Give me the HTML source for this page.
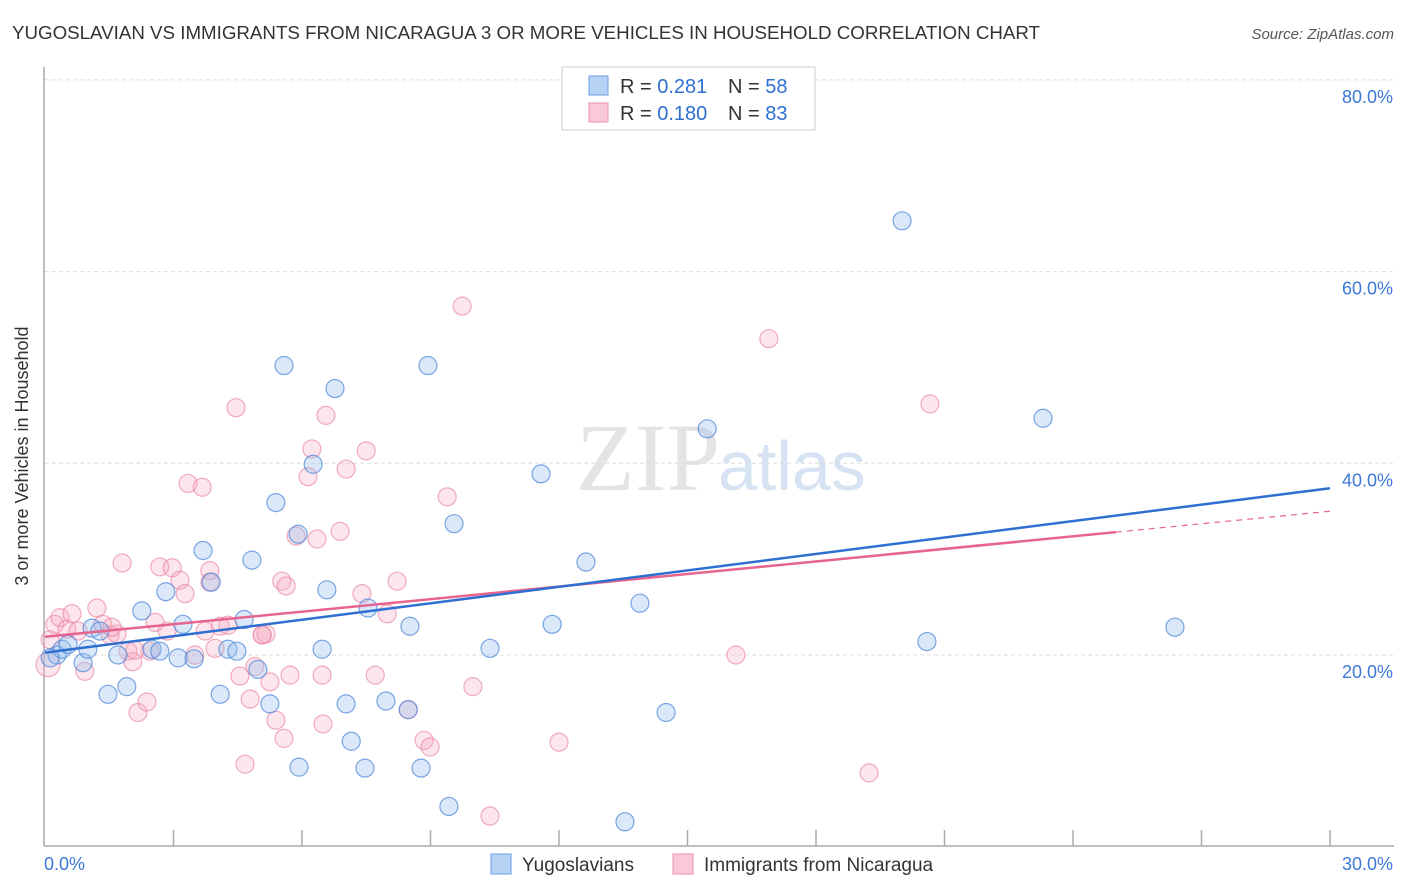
<!DOCTYPE html>
<html><head><meta charset="utf-8"><style>
body{margin:0;background:#fff;font-family:"Liberation Sans",sans-serif;}
svg{display:block}
</style></head><body>
<svg width="1406" height="892" xmlns="http://www.w3.org/2000/svg">
<text x="12" y="39" font-size="18" fill="#333" textLength="1028" lengthAdjust="spacingAndGlyphs">YUGOSLAVIAN VS IMMIGRANTS FROM NICARAGUA 3 OR MORE VEHICLES IN HOUSEHOLD CORRELATION CHART</text>
<text x="1394" y="39" font-size="15" fill="#555" font-style="italic" text-anchor="end">Source: ZipAtlas.com</text>
<text x="720" y="490" font-size="96" fill="#e4e4e4" text-anchor="end" font-family="Liberation Serif,serif">ZIP</text>
<text x="718" y="490" font-size="70" fill="#d6e3f3">atlas</text>
<g id="grid"></g>
<g id="pts"></g>
<g id="lines"></g>
<text x="28" y="456" font-size="18" fill="#333" transform="rotate(-90 28 456)" text-anchor="middle">3 or more Vehicles in Household</text>
<rect x="562" y="67" width="253" height="63" fill="#fff" stroke="#ccc"/>
<rect x="589" y="76" width="19" height="19" fill="#b7d3f4" stroke="#6a9ee0"/>
<rect x="589" y="103" width="19" height="19" fill="#f9c9d7" stroke="#ea93ad"/>
<text x="620" y="93" font-size="20" fill="#333">R = <tspan fill="#2e6fd1">0.281</tspan></text>
<text x="728" y="93" font-size="20" fill="#333">N = <tspan fill="#2e6fd1">58</tspan></text>
<text x="620" y="120" font-size="20" fill="#333">R = <tspan fill="#2e6fd1">0.180</tspan></text>
<text x="728" y="120" font-size="20" fill="#333">N = <tspan fill="#2e6fd1">83</tspan></text>
<rect x="491" y="854" width="20" height="20" fill="#b7d3f4" stroke="#6a9ee0"/>
<text x="522" y="871" font-size="19" fill="#333">Yugoslavians</text>
<rect x="673" y="854" width="20" height="20" fill="#f9c9d7" stroke="#ea93ad"/>
<text x="704" y="871" font-size="19" fill="#333">Immigrants from Nicaragua</text>
</svg>
<script>
const blueX=[0.28,0.40,0.54,0.89,1.10,1.28,1.47,1.70,1.91,2.26,2.50,2.68,2.82,3.11,3.22,3.48,3.69,3.88,4.09,4.27,4.48,4.65,4.83,4.97,5.25,5.39,5.58,5.91,5.93,6.26,6.47,6.58,6.77,7.03,7.15,7.47,7.54,7.96,8.48,8.52,8.78,8.94,9.43,9.55,10.39,11.58,11.84,12.63,13.54,13.89,14.50,15.46,20.01,20.59,23.30,26.38,0.12,1.00];
const blueY=[20.0,20.6,21.1,19.2,22.8,22.5,15.9,20.0,16.7,24.6,20.6,20.4,26.6,19.7,23.2,19.6,30.9,27.6,15.9,20.6,20.4,23.7,29.9,18.5,14.9,35.9,50.2,32.6,8.3,39.9,20.6,26.8,47.8,14.9,11.0,8.2,24.9,15.2,14.3,23.0,8.2,50.2,4.2,33.7,20.7,38.9,23.2,29.7,2.6,25.4,14.0,43.6,65.3,21.4,44.7,22.9,19.7,20.6];
const pinkX=[0.07,0.12,0.23,0.35,0.51,0.63,0.77,0.93,1.21,1.35,1.52,1.68,1.80,1.94,2.05,2.17,2.38,2.57,2.68,2.85,2.97,3.15,3.27,3.34,3.50,3.67,3.74,3.85,3.97,4.09,4.27,4.46,4.55,4.67,4.79,4.90,5.07,5.16,5.25,5.39,5.53,5.58,5.63,5.72,5.86,6.14,6.23,6.35,6.47,6.49,6.56,6.89,7.03,7.40,7.50,7.71,7.99,8.22,8.48,8.85,8.99,9.39,9.74,9.99,10.39,12.00,16.13,16.90,19.24,20.66,5.07,2.45,2.10,1.56,3.85];
const pinkY=[19.0,21.6,23.2,23.9,22.7,24.3,22.5,18.3,24.9,23.2,22.1,22.2,29.6,20.4,19.3,14.0,15.1,23.4,29.2,22.5,29.1,27.8,26.4,37.9,20.0,37.5,22.5,28.8,20.7,23.0,23.1,45.8,17.8,8.6,15.4,18.8,22.1,22.2,17.2,13.2,27.7,11.3,27.2,17.9,32.4,38.6,41.5,32.1,17.9,12.8,45.0,32.9,39.4,26.4,41.3,17.9,24.3,27.7,14.3,11.1,10.4,36.5,56.4,16.7,3.2,10.9,20.0,53.0,7.7,46.2,22.1,20.4,20.5,22.9,27.6];
const yTicks=[20,40,60,80];
const xTickLabels=["0.0%","30.0%"];
const blueTrend=[20.25,37.4];
const pinkTrend=[21.9,35.0];
const X=v=>45+v/30*1285, Y=v=>846.7-v*9.585;
const NS="http://www.w3.org/2000/svg";
function mk(t,a,p){const e=document.createElementNS(NS,t);for(const k in a)e.setAttribute(k,a[k]);p.appendChild(e);return e;}
const g=document.getElementById('grid'),pts=document.getElementById('pts'),ln=document.getElementById('lines');
let ax=mk('line',{x1:44,y1:67,x2:44,y2:846,stroke:'#aaa','stroke-width':1.5},g);


let bx=mk('line',{x1:44,y1:846,x2:1394,y2:846,stroke:'#aaa','stroke-width':1.5},g);


yTicks.forEach(t=>{
 const l=mk('line',{x1:45,x2:1394,y1:Y(t),y2:Y(t),stroke:'#ddd','stroke-dasharray':'4 3'},g);
 
 
 const tx=mk('text',{x:1393,y:Y(t)+23,'font-size':18,fill:'#3b78d8','text-anchor':'end'},g);
 tx.textContent=t.toFixed(1)+'%';
 
 
});
for(let i=1;i<=10;i++){
 const xx=X(i*3);
 const l=mk('line',{x1:xx,x2:xx,y1:830,y2:846,stroke:'#aaa','stroke-width':1.5},g);
 
 
}
[[0,'start',44],[30,'end',1393]].forEach((d,i)=>{
 const tx=mk('text',{x:d[2],y:870,'font-size':18,fill:'#3b78d8','text-anchor':d[1]},g);
 tx.textContent=xTickLabels[i];
 
 
});
pinkX.forEach((v,i)=>{
 const c=mk('circle',{cx:X(v),cy:Y(pinkY[i]),r:i==0?12:9,fill:'rgba(246,170,192,0.3)',stroke:'rgba(232,130,160,0.65)','stroke-width':1.2},pts);
 
 
});
blueX.forEach((v,i)=>{
 const c=mk('circle',{cx:X(v),cy:Y(blueY[i]),r:9,fill:'rgba(150,190,238,0.35)',stroke:'rgba(70,130,215,0.7)','stroke-width':1.2},pts);
 
 
});
const pm=pinkTrend[0]+(pinkTrend[1]-pinkTrend[0])*25/30;
let p1=mk('line',{x1:X(0),y1:Y(pinkTrend[0]),x2:X(25),y2:Y(pm),stroke:'#e6648e','stroke-width':2.5},ln);


let p2=mk('line',{x1:X(25),y1:Y(pm),x2:X(30),y2:Y(pinkTrend[1]),stroke:'#e6648e','stroke-width':1.2,'stroke-dasharray':'6 5'},ln);


let b1=mk('line',{x1:X(0),y1:Y(blueTrend[0]),x2:X(30),y2:Y(blueTrend[1]),stroke:'#2e6fd1','stroke-width':2.5},ln);


</script>
</body></html>
